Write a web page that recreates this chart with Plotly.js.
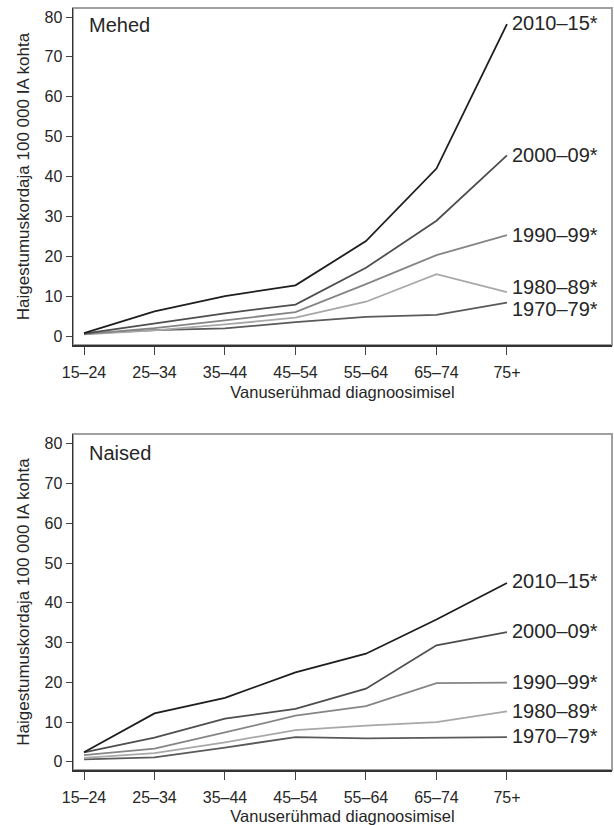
<!DOCTYPE html>
<html>
<head>
<meta charset="utf-8">
<script src="https://cdn.plot.ly/plotly-3.0.1.min.js"></script>
<style>
html,body{margin:0;padding:0;background:#fff;}
#chart{width:614px;height:825px;}
</style>
</head>
<body>
<div id="chart"></div>
<script>
// ---- data ----
var ageGroups = ['15–24','25–34','35–44','45–54','55–64','65–74','75+'];
var periods = ['1970–79*','1980–89*','1990–99*','2000–09*','2010–15*'];

// Mehed (men)
var men1970 = [0.6, 1.5, 1.9, 3.5, 4.8, 5.3, 8.4];
var men1980 = [0.4, 1.4, 2.9, 4.6, 8.6, 15.5, 11.0];
var men1990 = [0.5, 2.0, 3.9, 6.0, 13.0, 20.3, 25.3];
var men2000 = [0.6, 3.1, 5.7, 7.9, 17.1, 28.9, 45.3];
var men2010 = [0.7, 6.2, 10.0, 12.7, 23.8, 42.0, 78.2];

// Naised (women)
var women1970 = [0.6, 1.1, 3.6, 6.2, 5.9, 6.1, 6.2];
var women1980 = [1.0, 2.2, 4.9, 8.0, 9.1, 10.0, 12.7];
var women1990 = [1.7, 3.3, 7.4, 11.6, 14.0, 19.8, 19.9];
var women2000 = [2.4, 6.1, 10.9, 13.3, 18.4, 29.3, 32.6];
var women2010 = [2.4, 12.2, 16.1, 22.5, 27.2, 35.8, 45.0];

var panelNames = ['Mehed', 'Naised'];
var yTitle = 'Haigestumuskordaja 100 000 IA kohta';
var xTitle = 'Vanuserühmad diagnoosimisel';
var yTicks = [0,10,20,30,40,50,60,70,80];

// ---- styles ----
var lineColors = ['#5a5a5a', '#a8a8a8', '#858585', '#4e4e4e', '#1e1e1e'];
var font = 'Liberation Sans, Arial, sans-serif';
var txt = '#262626';

var menSeries = [men1970, men1980, men1990, men2000, men2010];
var womenSeries = [women1970, women1980, women1990, women2000, women2010];
// small vertical nudges for end labels (data units) to avoid overlaps
var menLabelNudge = [-1.7, 1.2, 0, 0, 0.3];
var womenLabelNudge = [0.4, 0, 0.3, 0.2, 0.5];

var traces = [];
var annotations = [];
function addPanel(series, nudge, xa, ya, yref) {
  series.forEach(function (vals, i) {
    traces.push({
      type: 'scatter', mode: 'lines',
      x: ageGroups, y: vals,
      xaxis: xa, yaxis: ya,
      line: {color: lineColors[i], width: 1.8},
      hoverinfo: 'skip', showlegend: false
    });
    annotations.push({
      x: ageGroups[ageGroups.length - 1], y: vals[vals.length - 1] + nudge[i],
      xref: xa, yref: yref, xanchor: 'left', yanchor: 'middle',
      xshift: 3, showarrow: false,
      text: periods[i], font: {family: font, size: 20, color: txt}
    });
  });
}
addPanel(menSeries, menLabelNudge, 'x', 'y', 'y');
addPanel(womenSeries, womenLabelNudge, 'x2', 'y2', 'y2');

annotations.push({x: 0, y: 1, xref: 'x domain', yref: 'y domain', xanchor: 'left', yanchor: 'top',
  xshift: 14, yshift: -4, showarrow: false, text: panelNames[0], font: {family: font, size: 20, color: txt}});
annotations.push({x: 0, y: 1, xref: 'x2 domain', yref: 'y2 domain', xanchor: 'left', yanchor: 'top',
  xshift: 14, yshift: -6, showarrow: false, text: panelNames[1], font: {family: font, size: 20, color: txt}});

function xAxis(domainAnchor) {
  return {
    type: 'category', range: [-0.156, 7.49], anchor: domainAnchor,
    showgrid: false, zeroline: false,
    showline: true, linecolor: '#333', linewidth: 1.5,
    ticks: 'outside', ticklen: 8, tickcolor: '#444', tickwidth: 1,
    ticklabelstandoff: 4,
    tickfont: {family: font, size: 16, color: txt},
    title: {text: xTitle, font: {family: font, size: 16.5, color: txt}, standoff: 6},
    fixedrange: true
  };
}
function yAxis(domain, range, anchor) {
  return {
    domain: domain, range: range, anchor: anchor,
    tickvals: yTicks, showgrid: false, zeroline: false,
    showline: true, linecolor: '#333', linewidth: 1.5,
    ticks: 'outside', ticklen: 6, tickcolor: '#444', tickwidth: 1,
    tickfont: {family: font, size: 16, color: txt},
    title: {text: yTitle, font: {family: font, size: 17, color: txt}, standoff: 10},
    fixedrange: true
  };
}

var layout = {
  width: 614, height: 825,
  margin: {l: 73, r: 2, t: 8, b: 55},
  paper_bgcolor: '#fff', plot_bgcolor: '#fff',
  showlegend: false,
  xaxis: xAxis('y'),
  yaxis: yAxis([0.5577, 1], [-2.26, 82.26], 'x'),
  xaxis2: xAxis('y2'),
  yaxis2: yAxis([0, 0.4409], [-2.05, 82.45], 'x2'),
  annotations: annotations,
  shapes: [
    {type: 'rect', xref: 'x domain', yref: 'y domain', x0: 0, x1: 1, y0: 0, y1: 1,
      line: {color: '#a0a0a0', width: 2}, layer: 'below'},
    {type: 'rect', xref: 'x2 domain', yref: 'y2 domain', x0: 0, x1: 1, y0: 0, y1: 1,
      line: {color: '#a0a0a0', width: 2}, layer: 'below'}
  ]
};

Plotly.newPlot('chart', traces, layout, {staticPlot: true, displayModeBar: false});
</script>
</body>
</html>
